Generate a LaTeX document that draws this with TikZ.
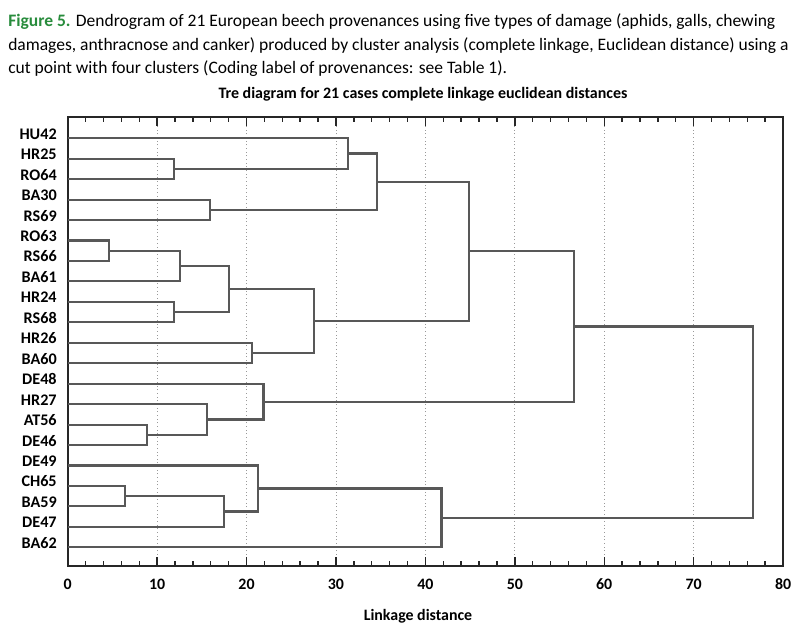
\documentclass[tikz,border=0pt]{standalone}
\usepackage{fontspec}
\setmainfont{Carlito}
\usetikzlibrary{calc}

\definecolor{figgreen}{RGB}{40,140,60}
\definecolor{linkgray}{RGB}{88,88,88}
\tikzset{
  link/.style={draw=linkgray, line width=1.5pt, line join=miter},
  frame/.style={draw=black!85, line width=1.3pt},
  gridline/.style={draw=black!40, dotted, line width=0.6pt},
  leaflabel/.style={anchor=base east, inner sep=0pt, font=\bfseries\fontsize{11.5}{13}\selectfont},
  ticklabel/.style={anchor=base, inner sep=0pt, font=\bfseries\fontsize{11.3}{13}\selectfont},
  captext/.style={anchor=base west, inner sep=0pt, font=\fontsize{12.45}{15}\selectfont},
}

\begin{document}
\begin{tikzpicture}[x=0.025cm, y=-0.025cm]
	\useasboundingbox (0,0) rectangle (800,639);
	
	% caption and title
	\node[captext] (cap1) at (8,26.7) {\textcolor{figgreen}{\bfseries Figure 5.} Dendrogram of 21 European beech provenances using five types of damage (aphids, galls, chewing};
	\node[captext] (cap2) at (8,50.2) {damages, anthracnose and canker) produced by cluster analysis (complete linkage, Euclidean distance) using a};
	\node[captext] (cap3) at (8,73.7) {cut point with four clusters (Coding label of provenances: see Table 1).};
	\node[anchor=base, inner sep=0pt, font=\bfseries\fontsize{11.35}{13}\selectfont] (title) at (423,98.3) {Tre diagram for 21 cases complete linkage euclidean distances};
	\node[anchor=base, inner sep=0pt, font=\bfseries\fontsize{11.3}{13}\selectfont] (xlabel) at (418,620) {Linkage distance};
	
	\begin{scope}[shift={(67.7,565.7)}, x=0.2235cm, y=0.51125cm]
	% grid, frame and ticks
	\foreach \v in {10,20,...,70}
	\draw[gridline] (\v,0) -- (\v,21.93);
	\draw[frame] (0,0) rectangle (80,21.93);
	\foreach \v in {2,4,...,78}
	{
		\draw[frame, line width=1pt] (\v,0) -- (\v,0.24);
		\draw[frame, line width=1pt] (\v,21.93) -- (\v,21.69);
	}
	\foreach \v in {10,20,...,70}
	{
		\draw[frame, line width=1pt] (\v,0) -- (\v,0.44);
		\draw[frame, line width=1pt] (\v,21.93) -- (\v,21.49);
	}
	\foreach \v in {0,10,...,80}
	\node[ticklabel] (xt\v) at (\v,-1.15) {\v};
	
	% leaves
	\foreach \name [count=\i] in {HU42,HR25,RO64,BA30,RS69,RO63,RS66,BA61,HR24,RS68,HR26,BA60,DE48,HR27,AT56,DE46,DE49,CH65,BA59,DE47,BA62}
	{
		\coordinate (l\i) at (0,21.9-\i);
		\node[leaflabel] (t\i) at (-1.2,21.85-\i) {\name};
	}
	
	% merges: child/child/name/height
	\foreach \a/\b/\m/\h in {l2/l3/a/11.9, l1/a/b/31.3, l4/l5/c/15.9, b/c/d/34.6,
		l6/l7/e/4.65, e/l8/f/12.6, l9/l10/g/11.9, f/g/h/18.0, l11/l12/i/20.6, h/i/j/27.5,
		d/j/k/44.9, l15/l16/m/8.87, l14/m/n/15.6, l13/n/o/21.9, k/o/p/56.6,
		l18/l19/q/6.4, q/l20/r/17.5, l17/r/s/21.3, s/l21/u/41.8, p/u/v/76.6}
	{
		\path ($(\a)!.5!(\b)$) coordinate (mid) (\h,0) coordinate (hx);
		\coordinate (\m) at (mid -| hx);
		\draw[link] (\a) -- (\a -| hx) -- (\b -| hx) -- (\b);
	}
	\end{scope}
\end{tikzpicture}
\end{document}
